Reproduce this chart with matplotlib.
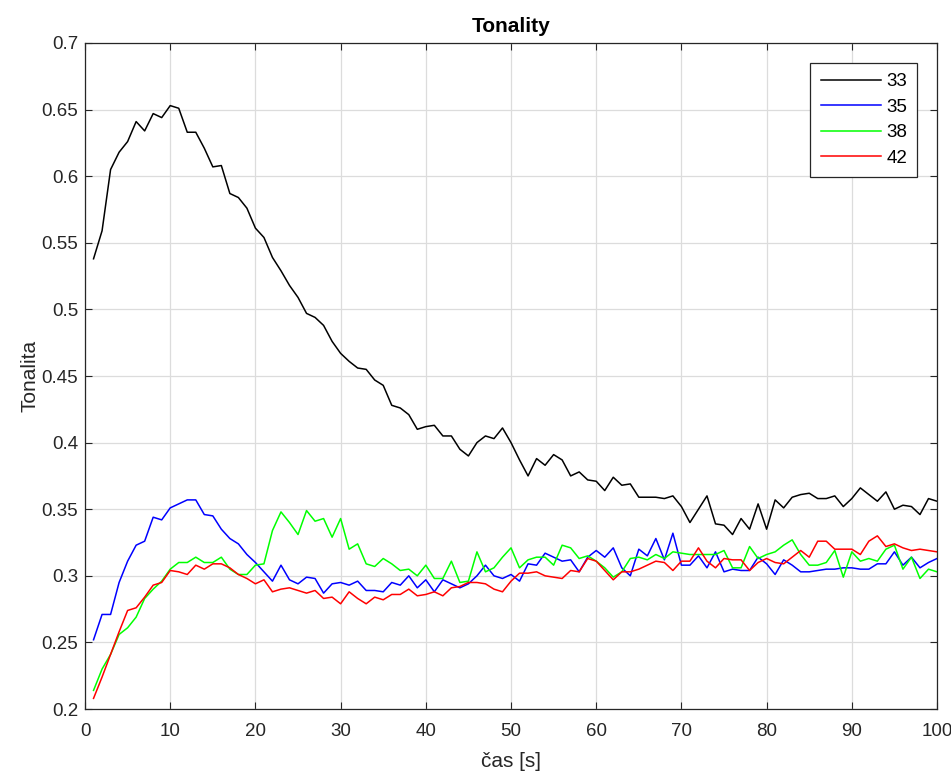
import numpy as np
import matplotlib
matplotlib.use("Agg")
import matplotlib.pyplot as plt

plt.rcParams['font.family'] = ['Liberation Sans', 'DejaVu Sans']

# time axis [s]
t = np.arange(1, 101)

ton_33 = [0.538, 0.559, 0.605, 0.618, 0.626, 0.641, 0.634, 0.647, 0.644, 0.653,
          0.651, 0.633, 0.633, 0.621, 0.607, 0.608, 0.587, 0.584, 0.576, 0.561,
          0.554, 0.539, 0.529, 0.518, 0.509, 0.497, 0.494, 0.488, 0.476, 0.467,
          0.461, 0.456, 0.455, 0.447, 0.443, 0.428, 0.426, 0.421, 0.410, 0.412,
          0.413, 0.405, 0.405, 0.395, 0.390, 0.400, 0.405, 0.403, 0.411, 0.400,
          0.387, 0.375, 0.388, 0.383, 0.391, 0.387, 0.375, 0.378, 0.372, 0.371,
          0.364, 0.374, 0.368, 0.369, 0.359, 0.359, 0.359, 0.358, 0.360, 0.352,
          0.340, 0.350, 0.360, 0.339, 0.338, 0.331, 0.343, 0.335, 0.354, 0.335,
          0.357, 0.351, 0.359, 0.361, 0.362, 0.358, 0.358, 0.360, 0.352, 0.358,
          0.366, 0.361, 0.356, 0.363, 0.350, 0.353, 0.352, 0.346, 0.358, 0.356]

ton_35 = [0.252, 0.271, 0.271, 0.295, 0.311, 0.323, 0.326, 0.344, 0.342, 0.351,
          0.354, 0.357, 0.357, 0.346, 0.345, 0.335, 0.328, 0.324, 0.316, 0.310,
          0.303, 0.296, 0.308, 0.297, 0.294, 0.299, 0.298, 0.287, 0.294, 0.295,
          0.293, 0.296, 0.289, 0.289, 0.288, 0.295, 0.293, 0.300, 0.291, 0.297,
          0.288, 0.297, 0.294, 0.291, 0.294, 0.300, 0.308, 0.300, 0.298, 0.301,
          0.296, 0.309, 0.308, 0.317, 0.314, 0.311, 0.312, 0.303, 0.314, 0.319,
          0.314, 0.321, 0.306, 0.300, 0.320, 0.315, 0.328, 0.312, 0.332, 0.308,
          0.308, 0.315, 0.306, 0.318, 0.303, 0.305, 0.304, 0.304, 0.314, 0.309,
          0.301, 0.312, 0.308, 0.303, 0.303, 0.304, 0.305, 0.305, 0.306, 0.306,
          0.305, 0.305, 0.309, 0.309, 0.318, 0.308, 0.314, 0.306, 0.310, 0.313]

ton_38 = [0.214, 0.230, 0.241, 0.256, 0.261, 0.269, 0.283, 0.290, 0.296, 0.305,
          0.310, 0.310, 0.314, 0.310, 0.310, 0.314, 0.305, 0.301, 0.301, 0.308,
          0.309, 0.334, 0.348, 0.340, 0.331, 0.349, 0.341, 0.343, 0.329, 0.343,
          0.320, 0.324, 0.309, 0.307, 0.313, 0.309, 0.304, 0.305, 0.300, 0.308,
          0.298, 0.298, 0.311, 0.295, 0.296, 0.318, 0.303, 0.306, 0.314, 0.321,
          0.306, 0.312, 0.314, 0.314, 0.308, 0.323, 0.321, 0.313, 0.315, 0.311,
          0.306, 0.299, 0.303, 0.313, 0.314, 0.312, 0.316, 0.313, 0.318, 0.317,
          0.316, 0.316, 0.316, 0.316, 0.319, 0.306, 0.306, 0.322, 0.313, 0.316,
          0.318, 0.323, 0.327, 0.316, 0.308, 0.308, 0.310, 0.319, 0.299, 0.318,
          0.311, 0.313, 0.311, 0.320, 0.323, 0.305, 0.314, 0.298, 0.305, 0.303]

ton_42 = [0.208, 0.224, 0.241, 0.258, 0.274, 0.276, 0.284, 0.293, 0.295, 0.304,
          0.303, 0.301, 0.308, 0.305, 0.309, 0.309, 0.306, 0.301, 0.298, 0.294,
          0.297, 0.288, 0.290, 0.291, 0.289, 0.287, 0.289, 0.283, 0.284, 0.279,
          0.288, 0.283, 0.279, 0.284, 0.282, 0.286, 0.286, 0.290, 0.285, 0.286,
          0.288, 0.285, 0.291, 0.292, 0.295, 0.295, 0.294, 0.290, 0.288, 0.296,
          0.302, 0.302, 0.303, 0.300, 0.299, 0.298, 0.304, 0.303, 0.313, 0.311,
          0.304, 0.297, 0.303, 0.303, 0.305, 0.308, 0.311, 0.310, 0.304, 0.311,
          0.311, 0.321, 0.311, 0.306, 0.313, 0.312, 0.312, 0.304, 0.310, 0.313,
          0.310, 0.309, 0.314, 0.319, 0.314, 0.326, 0.326, 0.320, 0.320, 0.320,
          0.316, 0.326, 0.330, 0.322, 0.324, 0.321, 0.319, 0.320, 0.319, 0.318]

labels = ['33', '35', '38', '42']
colors = ['black', 'blue', '#00ff00', 'red']

fig = plt.figure(figsize=(9.51, 7.76), dpi=100)
ax = fig.add_axes([0.0894, 0.0863, 0.8959, 0.8583])

for series, lab, col in zip([ton_33, ton_35, ton_38, ton_42], labels, colors):
    ax.plot(t, series, color=col, lw=1.1, label=lab)

ax.set_xlim(0, 100)
ax.set_ylim(0.2, 0.7)
ax.set_xticks(np.arange(0, 101, 10))
ax.set_yticks(np.arange(0.2, 0.701, 0.05))
ax.set_yticklabels(['0.2', '0.25', '0.3', '0.35', '0.4', '0.45', '0.5',
                    '0.55', '0.6', '0.65', '0.7'])

ax.grid(True, color='#dcdcdc', lw=0.9)
ax.set_axisbelow(True)
ax.tick_params(direction='in', length=5, width=0.8, colors='#262626',
               labelsize=13.5, top=True, right=True)
ax.tick_params(axis='y', pad=5)
ax.tick_params(axis='x', pad=10)
for sp in ax.spines.values():
    sp.set_color('#262626')
    sp.set_linewidth(0.9)

ax.set_title('Tonality', fontsize=15, fontweight='bold', pad=8)
ax.set_xlabel('čas [s]', fontsize=15, color='#262626', labelpad=9)
ax.set_ylabel('Tonalita', fontsize=15, color='#262626', labelpad=1)

leg = ax.legend(loc='upper right', fontsize=13.5, fancybox=False,
                edgecolor='#262626', framealpha=1, handlelength=3.2,
                handletextpad=0.3, borderaxespad=1.05, labelspacing=0.45,
                borderpad=0.55)
leg.get_frame().set_linewidth(0.9)

fig.savefig('out.png', dpi=100)
